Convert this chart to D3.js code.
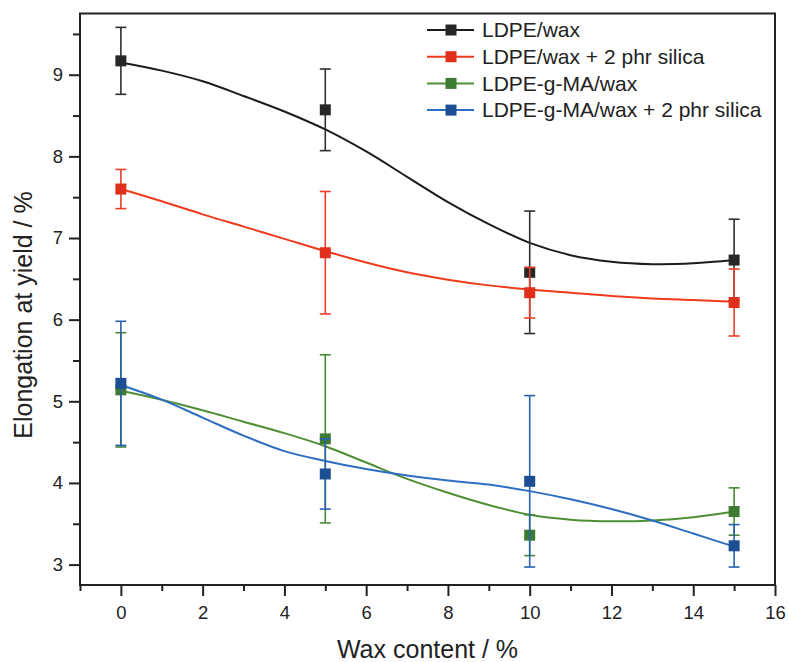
<!DOCTYPE html>
<html>
<head>
<meta charset="utf-8">
<script src="https://cdn.jsdelivr.net/npm/d3@7"></script>
<style>
  html, body { margin: 0; padding: 0; background: #fff; }
  svg { display: block; font-family: "Liberation Sans", Arial, sans-serif; }
</style>
</head>
<body>
<svg id="chart" width="789" height="662"></svg>
<script>
// Measured points: wax content (%) vs. elongation at yield (%), mean and error
const waxContent = [0, 5, 10, 15];

const seriesNames = [
  "LDPE/wax",
  "LDPE/wax + 2 phr silica",
  "LDPE-g-MA/wax",
  "LDPE-g-MA/wax + 2 phr silica"
];

const ldpeWax = [9.17, 8.57, 6.58, 6.73];
const ldpeWaxErr = [0.41, 0.50, 0.75, 0.50];

const ldpeWaxSilica = [7.60, 6.82, 6.33, 6.21];
const ldpeWaxSilicaErr = [0.24, 0.75, 0.31, 0.41];

const maWax = [5.14, 4.54, 3.36, 3.65];
const maWaxErr = [0.70, 1.03, 0.25, 0.29];

const maWaxSilica = [5.22, 4.11, 4.02, 3.23];
const maWaxSilicaErr = [0.76, 0.43, 1.05, 0.26];

// Smoothed trend curves, sampled at each integer wax content
const fitX = [0, 1, 2, 3, 4, 5, 6, 7, 8, 9, 10, 11, 12, 13, 14, 15];
const ldpeWaxFit =        [9.15, 9.05, 8.92, 8.74, 8.55, 8.33, 8.06, 7.75, 7.44, 7.17, 6.94, 6.79, 6.71, 6.68, 6.69, 6.73];
const ldpeWaxSilicaFit =  [7.60, 7.45, 7.29, 7.14, 6.99, 6.84, 6.70, 6.58, 6.49, 6.42, 6.37, 6.33, 6.29, 6.26, 6.24, 6.22];
const maWaxFit =          [5.13, 5.02, 4.89, 4.75, 4.61, 4.45, 4.25, 4.05, 3.88, 3.73, 3.61, 3.55, 3.53, 3.54, 3.58, 3.65];
const maWaxSilicaFit =    [5.20, 5.02, 4.80, 4.58, 4.39, 4.27, 4.17, 4.09, 4.03, 3.98, 3.90, 3.80, 3.68, 3.54, 3.38, 3.22];

// Axis ticks
const xMajorTicks = [0, 2, 4, 6, 8, 10, 12, 14, 16];
const xMinorTicks = [-1, 1, 3, 5, 7, 9, 11, 13, 15];
const yMajorTicks = [3, 4, 5, 6, 7, 8, 9];
const yMinorTicks = [3.5, 4.5, 5.5, 6.5, 7.5, 8.5, 9.5];

const xTitle = "Wax content / %";
const yTitle = "Elongation at yield / %";

// Styling per series
const lineColors   = ["#1c1c1c", "#ef3b1d", "#4e8f35", "#2e6ec2"];
const markerColors = ["#262626", "#e0301c", "#3d7b33", "#1b4e93"];
const barColors    = ["#2e2e2e", "#e9402a", "#488838", "#2862ae"];

const series = [
  { name: seriesNames[0], y: ldpeWax, err: ldpeWaxErr, fit: ldpeWaxFit },
  { name: seriesNames[1], y: ldpeWaxSilica, err: ldpeWaxSilicaErr, fit: ldpeWaxSilicaFit },
  { name: seriesNames[2], y: maWax, err: maWaxErr, fit: maWaxFit },
  { name: seriesNames[3], y: maWaxSilica, err: maWaxSilicaErr, fit: maWaxSilicaFit }
];

const svg = d3.select("#chart");
const plotLeft = 80, plotRight = 775, plotTop = 13.5, plotBottom = 585;

const x = d3.scaleLinear().domain([-1, 16]).range([plotLeft, plotRight]);
const y = d3.scaleLinear().domain([2.75, 9.75]).range([plotBottom, plotTop]);

const axisColor = "#222";

// Minor ticks
svg.append("g")
  .attr("transform", `translate(0,${plotBottom})`)
  .call(d3.axisBottom(x).tickValues(xMinorTicks).tickSize(6).tickFormat(""))
  .call(g => g.select(".domain").remove())
  .call(g => g.selectAll("line").attr("stroke", axisColor).attr("stroke-width", 2));

svg.append("g")
  .attr("transform", `translate(${plotLeft},0)`)
  .call(d3.axisLeft(y).tickValues(yMinorTicks).tickSize(7).tickFormat(""))
  .call(g => g.select(".domain").remove())
  .call(g => g.selectAll("line").attr("stroke", axisColor).attr("stroke-width", 2));

// Major ticks with labels
svg.append("g")
  .attr("transform", `translate(0,${plotBottom})`)
  .call(d3.axisBottom(x).tickValues(xMajorTicks).tickSize(11).tickPadding(10).tickFormat(d3.format("d")))
  .call(g => g.select(".domain").remove())
  .call(g => g.selectAll("line").attr("stroke", axisColor).attr("stroke-width", 2))
  .call(g => g.selectAll("text").attr("fill", "#222").style("font-size", "18.5px")
    .style("font-family", "'Liberation Sans', Arial, sans-serif"));

svg.append("g")
  .attr("transform", `translate(${plotLeft},0)`)
  .call(d3.axisLeft(y).tickValues(yMajorTicks).tickSize(11).tickPadding(6).tickFormat(d3.format("d")))
  .call(g => g.select(".domain").remove())
  .call(g => g.selectAll("line").attr("stroke", axisColor).attr("stroke-width", 2))
  .call(g => g.selectAll("text").attr("fill", "#222").style("font-size", "18.5px")
    .style("font-family", "'Liberation Sans', Arial, sans-serif"));

// Plot frame
svg.append("rect")
  .attr("x", plotLeft).attr("y", plotTop)
  .attr("width", plotRight - plotLeft).attr("height", plotBottom - plotTop)
  .attr("fill", "none").attr("stroke", axisColor).attr("stroke-width", 2);

// Axis titles
svg.append("text")
  .attr("x", (plotLeft + plotRight) / 2).attr("y", 658)
  .attr("text-anchor", "middle")
  .attr("fill", "#222")
  .style("font-size", "25px")
  .text(xTitle);

svg.append("text")
  .attr("transform", `translate(32,315) rotate(-90)`)
  .attr("text-anchor", "middle")
  .attr("fill", "#222")
  .style("font-size", "25px")
  .text(yTitle);

// Trend curves
const line = d3.line()
  .x((d, i) => x(fitX[i]))
  .y(d => y(d))
  .curve(d3.curveCatmullRom.alpha(0.5));

const plot = svg.append("g");

series.forEach((s, k) => {
  plot.append("path")
    .attr("d", line(s.fit))
    .attr("fill", "none")
    .attr("stroke", lineColors[k])
    .attr("stroke-width", 2);
});

// Error bars and markers
const cap = 5.5, msize = 11;
series.forEach((s, k) => {
  const g = plot.append("g");
  waxContent.forEach((wx, i) => {
    const cx = x(wx);
    const hi = y(s.y[i] + s.err[i]);
    const lo = y(s.y[i] - s.err[i]);
    g.append("line").attr("x1", cx).attr("x2", cx).attr("y1", hi).attr("y2", lo)
      .attr("stroke", barColors[k]).attr("stroke-width", 1.6);
    [hi, lo].forEach(yy => {
      g.append("line").attr("x1", cx - cap).attr("x2", cx + cap).attr("y1", yy).attr("y2", yy)
        .attr("stroke", barColors[k]).attr("stroke-width", 1.6);
    });
  });
  g.selectAll("rect")
    .data(s.y)
    .join("rect")
    .attr("x", (d, i) => x(waxContent[i]) - msize / 2)
    .attr("y", d => y(d) - msize / 2)
    .attr("width", msize).attr("height", msize)
    .attr("fill", markerColors[k]);
});

// Legend
const legend = svg.append("g");
const legendRowY = d => 30 + d * 26.7;
series.forEach((s, k) => {
  const ry = legendRowY(k);
  legend.append("line")
    .attr("x1", 427).attr("x2", 474).attr("y1", ry).attr("y2", ry)
    .attr("stroke", lineColors[k]).attr("stroke-width", 2);
  legend.append("rect")
    .attr("x", 451 - msize / 2).attr("y", ry - msize / 2)
    .attr("width", msize).attr("height", msize)
    .attr("fill", markerColors[k]);
  legend.append("text")
    .attr("x", 482).attr("y", ry).attr("dy", "0.35em")
    .attr("fill", "#222")
    .style("font-size", "21px")
    .text(s.name);
});
</script>
</body>
</html>
